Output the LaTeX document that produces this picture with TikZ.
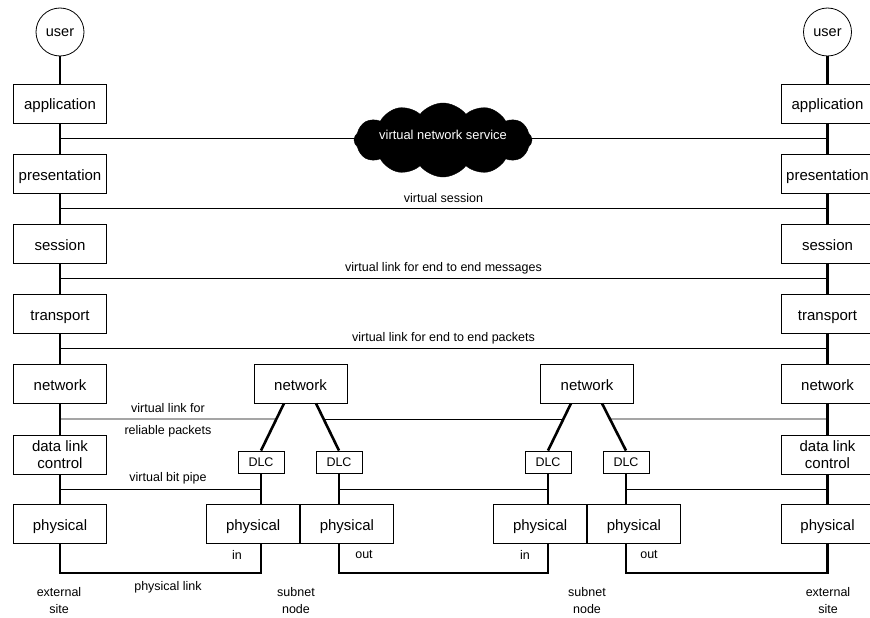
\documentclass[tikz,border=0pt]{standalone}
\usepackage{fontspec}
\setmainfont{Liberation Sans}
\usetikzlibrary{shapes.symbols,calc}
\begin{document}
\begin{tikzpicture}[x=1pt,y=-1pt,
  layerbox/.style={draw, line width=0.8pt, minimum width=93pt, minimum height=39pt, inner sep=1pt, font=\fontsize{15}{17.5}\selectfont, align=center},
  onebox/.style={layerbox, text height=13pt, text depth=0pt},
  dlcbox/.style={draw, line width=0.8pt, minimum width=46pt, minimum height=22pt, inner sep=1pt, font=\fontsize{12.5}{15}\selectfont},
  userc/.style={draw, circle, line width=0.8pt, minimum size=48pt, inner sep=0pt, text height=9.5pt, text depth=0pt, font=\fontsize{14.5}{17}\selectfont},
  trunk/.style={line width=2.6pt},
  vlink/.style={line width=0.9pt},
  lbl/.style={font=\fontsize{12.5}{17}\selectfont, inner sep=0pt, align=center},
]
\useasboundingbox (0,0) rectangle (870,618);

% end columns
\foreach \s/\x in {L/60, R/827.5}{
  \node[userc] (u\s) at (\x,32) {user};
  \node[onebox] (a\s) at (\x,103.5) {application};
  \node[onebox] (p\s) at (\x,173.5) {presentation};
  \node[onebox] (s\s) at (\x,243.5) {session};
  \node[onebox] (t\s) at (\x,313.5) {transport};
  \node[onebox] (n\s) at (\x,383.5) {network};
  \node[layerbox] (d\s) at (\x,454.5) {data link\\control};
  \node[onebox] (ph\s) at (\x,523.5) {physical};
}

% subnet nodes
\node[onebox] (n1) at (300.5,383.5) {network};
\node[onebox] (n2) at (587,383.5) {network};
\node[dlcbox] (d1) at (261,462) {DLC};
\node[dlcbox] (d2) at (339,462) {DLC};
\node[dlcbox] (d3) at (548,462) {DLC};
\node[dlcbox] (d4) at (626,462) {DLC};
\node[onebox, anchor=north east] (ph1) at (300,504) {physical};
\node[onebox, anchor=north west] (ph2) at (300,504) {physical};
\node[onebox, anchor=north east] (ph3) at (587,504) {physical};
\node[onebox, anchor=north west] (ph4) at (587,504) {physical};

% trunks
\foreach \s in {L,R}{
  \draw[trunk] (u\s) -- (a\s) -- (p\s) -- (s\s) -- (t\s) -- (n\s) -- (d\s) -- (ph\s);
  \path (a\s.south) -- (p\s.north) coordinate[pos=.5] (j\s1);
  \path (p\s.south) -- (s\s.north) coordinate[pos=.5] (j\s2);
  \path (s\s.south) -- (t\s.north) coordinate[pos=.5] (j\s3);
  \path (t\s.south) -- (n\s.north) coordinate[pos=.5] (j\s4);
  \path (n\s.south) -- (d\s.north) coordinate[pos=.5] (j\s5);
  \path (d\s.south) -- (ph\s.north) coordinate[pos=.5] (j\s6);
}
\coordinate (s1a) at ($(n1.south)+(-16.5,0)$);
\coordinate (s1b) at ($(n1.south)+(15.5,0)$);
\coordinate (s2a) at ($(n2.south)+(-16,0)$);
\coordinate (s2b) at ($(n2.south)+(15,0)$);
\draw[trunk] (s1a) -- (d1.north);
\draw[trunk] (s1b) -- (d2.north);
\draw[trunk] (s2a) -- (d3.north);
\draw[trunk] (s2b) -- (d4.north);
\foreach \k in {1,2,3,4}{
  \draw[trunk] (d\k.south) -- (d\k.south |- ph\k.north);
}
\coordinate (b0) at (60,573);
\draw[trunk] (phL.south) -- (b0) -| (ph1.south -| d1.south);
\draw[trunk] (ph2.south -| d2.south) |- (d3.south |- b0) -- (ph3.south -| d3.south);
\draw[trunk] (ph4.south -| d4.south) |- (phR.south |- b0) -- (phR.south);

% virtual links
\draw[vlink] (jL1) -- (jR1);
\draw[vlink] (jL2) -- (jR2);
\draw[vlink] (jL3) -- (jR3);
\draw[vlink] (jL4) -- (jR4);
\coordinate (x1) at (intersection of jL5--jR5 and s1a--d1.north);
\coordinate (x2) at (intersection of jL5--jR5 and s1b--d2.north);
\coordinate (x3) at (intersection of jL5--jR5 and s2a--d3.north);
\coordinate (x4) at (intersection of jL5--jR5 and s2b--d4.north);
\draw[vlink] (jL5) -- (x1);
\draw[vlink] (x2) -- (x3);
\draw[vlink] (x4) -- (jR5);
\draw[vlink] (jL6) -- (jL6 -| d1.south);
\draw[vlink] (jL6 -| d2.south) -- (jL6 -| d3.south);
\draw[vlink] (jL6 -| d4.south) -- (jR6);

\node[cloud, fill=black, draw=black, cloud puffs=12, cloud puff arc=105, aspect=2.4, minimum width=178pt, minimum height=74pt, inner sep=0pt] (cl) at (443,140) {};
\node[text=white, font=\fontsize{12.9}{15}\selectfont, inner sep=0pt] (clt) at (443,135) {virtual network service};

% labels
\node[lbl] (l1) at (443.5,198) {virtual session};
\node[lbl] (l2) at (443.5,268) {virtual link for end to end messages};
\node[lbl] (l3) at (443.5,338) {virtual link for end to end packets};
\node[lbl] (l4) at (168,408) {virtual link for};
\node[lbl] (l5) at (168,431) {reliable packets};
\node[lbl] (l6) at (168,478) {virtual bit pipe};
\node[lbl] (i1) at (237,555) {in};
\node[lbl] (o1) at (364,555) {out};
\node[lbl] (i2) at (525,555) {in};
\node[lbl] (o2) at (649,555) {out};
\node[lbl] (pl) at (168,587) {physical link};
\node[lbl] (e1) at (59,601) {external\\site};
\node[lbl] (sn1) at (296,601) {subnet\\node};
\node[lbl] (sn2) at (587,601) {subnet\\node};
\node[lbl] (e2) at (828,601) {external\\site};
\end{tikzpicture}
\end{document}
